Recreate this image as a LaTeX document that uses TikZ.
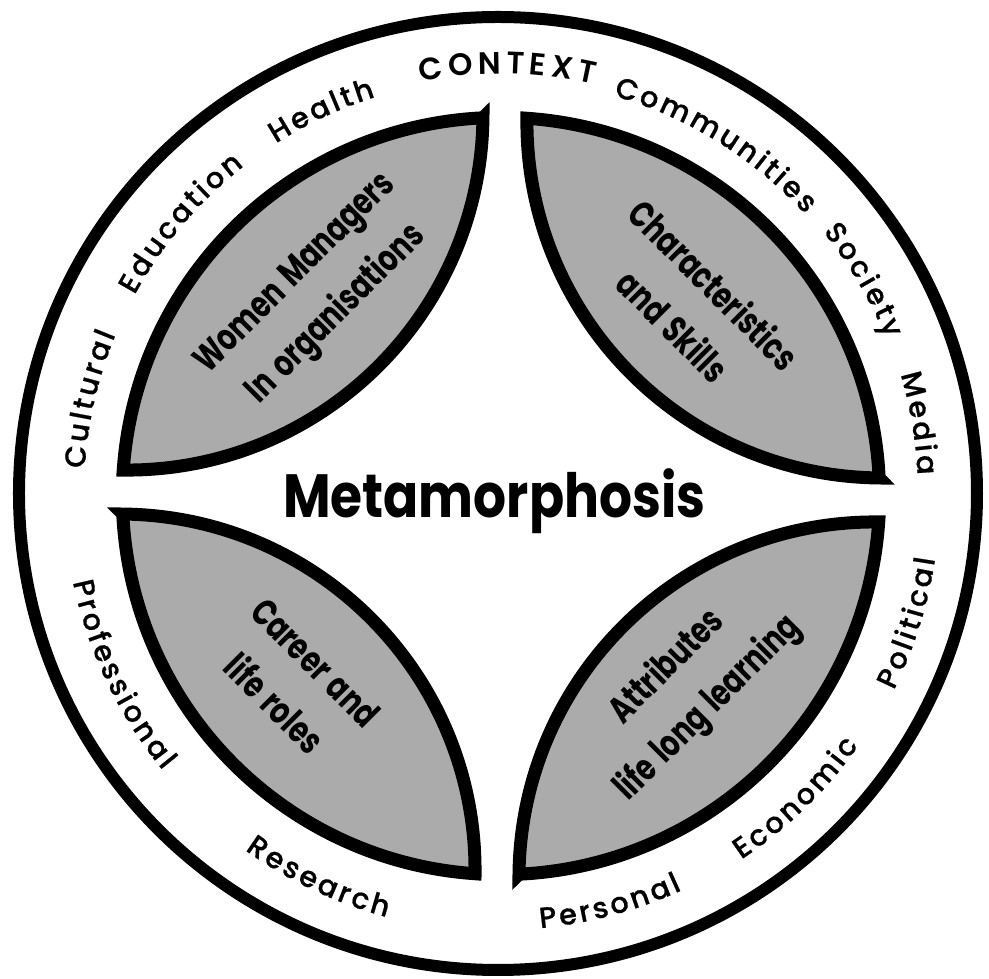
\documentclass[tikz,border=0pt]{standalone}
\usepackage{fontspec}
\setmainfont{Poppins}
\IfFontExistsTF{Poppins Medium}
  {\newfontfamily\ringfont[FakeBold=0.6]{Poppins Medium}}
  {\newfontfamily\ringfont[FakeBold=1.6]{Poppins}}
\IfFontExistsTF{Poppins SemiBold}
  {\newfontfamily\contextfont{Poppins SemiBold}}
  {\newfontfamily\contextfont{Poppins Bold}}
\newfontfamily\leaffont[FakeStretch=0.75, WordSpace=1.5]{Poppins}
\newfontfamily\titlefont[FakeStretch=0.85]{Poppins}
\newcommand\ringsize{\ringfont\fontsize{29}{29}\selectfont}
\newcommand\contextsize{\contextfont\fontsize{31}{31}\selectfont}
\newcommand\lsp{\kern3pt}
\newcommand\csp{\kern5pt}
\usetikzlibrary{decorations.text}

\begin{document}
\begin{tikzpicture}[
    x=1pt, y=1pt,
    leaf/.style={draw=black, line width=13pt, fill=black!33, line join=miter},
    ringline/.style={draw=black, line width=12pt},
    leaftext/.style={font=\leaffont\bfseries\fontsize{37}{58}\selectfont, align=center},
    title/.style={font=\titlefont\bfseries\fontsize{61}{61}\selectfont, anchor=base},
    ringword/.style={decorate, decoration={text along path, text align=center}}
]
\useasboundingbox (-500,-485) rectangle (489,494);

% outer context ring
\draw[ringline] (-2,0.5) ellipse[x radius=479, y radius=476.5];

\begin{scope}[rotate=-0.6]
% the four leaves
\foreach \turn in {0,-90,-180,-270}
  \path[leaf, shift={(1,-2)}, rotate=\turn] (-22,378)
    arc[start angle=93.33, end angle=176.67, radius=378.64]
    arc[start angle=270, end angle=360, radius=356] -- cycle;

\node[leaftext, rotate=45] (women) at (-185,197) {Women Managers\\In organisations};
\node[leaftext, rotate=-45] (skills) at (192,191) {Characteristics\\and Skills};
\node[leaftext, rotate=-45] (career) at (-203,-191) {Career and\\life roles};
\node[leaftext, rotate=45] (attrib) at (190,-192) {Attributes\\life long learning};
\node[title] (meta) at (-5.5,-24) {Metamorphosis};
\end{scope}

% words round the top (read clockwise)
\path[ringword, decoration={text={|\ringsize|{C\lsp}{u\lsp}{l\lsp}{t\lsp}{u\lsp}{r\lsp}{a\lsp}l}}]
  (192:416) arc[start angle=192, end angle=142, radius=416];
\path[ringword, decoration={text={|\ringsize|{E\lsp}{d\lsp}{u\lsp}{c\lsp}{a\lsp}{t\lsp}{i\lsp}{o\lsp}n}}]
  (164.7:416) arc[start angle=164.7, end angle=114.7, radius=416];
\path[ringword, decoration={text={|\ringsize|{H\lsp}{e\lsp}{a\lsp}{l\lsp}{t\lsp}h}}]
  (140:416) arc[start angle=140, end angle=90, radius=416];
\path[ringword, decoration={text={|\contextsize|{C\csp}{O\csp}{N\csp}{T\csp}{E\csp}{X\csp}T}}]
  (114:420) arc[start angle=114, end angle=64, radius=420];
\path[ringword, decoration={text={|\ringsize|{C\lsp}{o\lsp}{m\lsp}{m\lsp}{u\lsp}{n\lsp}{i\lsp}{t\lsp}{i\lsp}{e\lsp}s}}]
  (88.3:414) arc[start angle=88.3, end angle=28.3, radius=414];
\path[ringword, decoration={text={|\ringsize|{S\lsp}{o\lsp}{c\lsp}{i\lsp}{e\lsp}{t\lsp}y}}]
  (55.5:416) arc[start angle=55.5, end angle=5.5, radius=416];
\path[ringword, decoration={text={|\ringsize|{M\lsp}{e\lsp}{d\lsp}{i\lsp}a}}]
  (34.6:418) arc[start angle=34.6, end angle=-15.4, radius=418];

% words round the bottom (read anticlockwise)
\path[ringword, decoration={text={|\ringsize|{P\lsp}{o\lsp}{l\lsp}{i\lsp}{t\lsp}{i\lsp}{c\lsp}{a\lsp}l}}]
  (-42.5:440) arc[start angle=-42.5, end angle=7.5, radius=440];
\path[ringword, decoration={text={|\ringsize|{E\lsp}{c\lsp}{o\lsp}{n\lsp}{o\lsp}{m\lsp}{i\lsp}c}}]
  (-70.8:438) arc[start angle=-70.8, end angle=-20.8, radius=438];
\path[ringword, decoration={text={|\ringsize|{P\lsp}{e\lsp}{r\lsp}{s\lsp}{o\lsp}{n\lsp}{a\lsp}l}}]
  (-100:436) arc[start angle=-100, end angle=-50, radius=436];
\path[ringword, decoration={text={|\ringsize|{R\lsp}{e\lsp}{s\lsp}{e\lsp}{a\lsp}{r\lsp}{c\lsp}h}}]
  (219.7:438) arc[start angle=219.7, end angle=269.7, radius=438];
\path[ringword, decoration={text={|\ringsize|{P\lsp}{r\lsp}{o\lsp}{f\lsp}{e\lsp}{s\lsp}{s\lsp}{i\lsp}{o\lsp}{n\lsp}{a\lsp}l}}]
  (180.5:436) arc[start angle=180.5, end angle=230.5, radius=436];
\end{tikzpicture}
\end{document}
